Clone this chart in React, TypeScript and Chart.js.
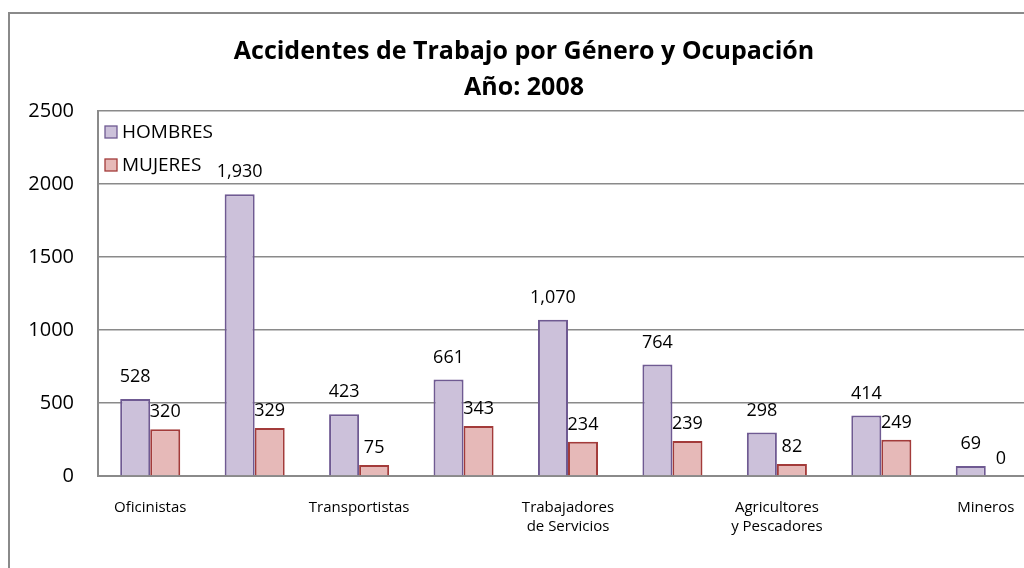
import React, { useEffect, useRef } from "react";
import { Chart, registerables } from "chart.js";

Chart.register(...registerables);

const categories: string[][] = [
  ["Oficinistas"],
  ["Artesanos y Operarios"],
  ["Transportistas"],
  ["Comerciantes y Vendedores"],
  ["Trabajadores", "de Servicios"],
  ["Profesionales y Técnicos"],
  ["Agricultores", "y Pescadores"],
  ["Gerentes y Administradores"],
  ["Mineros"],
];
const shownLabelIndexes = [0, 2, 4, 6, 8];
const hombres = [528, 1930, 423, 661, 1070, 764, 298, 414, 69];
const mujeres = [320, 329, 75, 343, 234, 239, 82, 249, 0];
const titleLines = ["Accidentes de Trabajo por Género y Ocupación", "Año: 2008"];
const yTicks = [0, 500, 1000, 1500, 2000, 2500];

const FONT = "'Open Sans', 'DejaVu Sans', sans-serif";

const decorPlugin = {
  id: "decor",
  beforeDraw(chart: any) {
    const ctx = chart.ctx;
    ctx.save();
    ctx.fillStyle = "#ffffff";
    ctx.fillRect(0, 0, chart.width, chart.height);
    ctx.strokeStyle = "#8a8a8a";
    ctx.lineWidth = 2;
    ctx.strokeRect(9, 13, chart.width + 40, chart.height + 40);
    ctx.restore();
  },
  afterDraw(chart: any) {
    const ctx = chart.ctx;
    ctx.save();
    ctx.fillStyle = "#000";
    ctx.textAlign = "center";
    ctx.textBaseline = "middle";
    ctx.font = `bold 25px ${FONT}`;
    ctx.fillText(titleLines[0], 524, 52);
    ctx.fillText(titleLines[1], 524, 88);
    const items = chart.data.datasets.map((d: any) => ({
      label: d.label,
      fill: d.backgroundColor,
      stroke: d.borderColor,
    }));
    const ys = [132, 165];
    ctx.font = `19px ${FONT}`;
    ctx.textAlign = "left";
    items.forEach((it: any, i: number) => {
      const y = ys[i];
      ctx.fillStyle = it.fill;
      ctx.fillRect(105, y - 6, 12, 12);
      ctx.strokeStyle = it.stroke;
      ctx.lineWidth = 1.3;
      ctx.strokeRect(105, y - 6, 12, 12);
      ctx.fillStyle = "#000";
      ctx.fillText(it.label, 122, y + 1);
    });
    ctx.restore();
  },
  afterDatasetsDraw(chart: any) {
    const ctx = chart.ctx;
    ctx.save();
    ctx.font = `18px ${FONT}`;
    ctx.fillStyle = "#000";
    ctx.textAlign = "center";
    ctx.textBaseline = "middle";
    const offsets = [22, 17];
    chart.data.datasets.forEach((ds: any, di: number) => {
      const meta = chart.getDatasetMeta(di);
      meta.data.forEach((el: any, i: number) => {
        const v = ds.data[i];
        ctx.fillText(v.toLocaleString("en-US"), el.x, el.y - offsets[di]);
      });
    });
    ctx.restore();
  },
};

export default function App() {
  const ref = useRef<HTMLCanvasElement>(null);
  useEffect(() => {
    if (!ref.current) return;
    const chart = new Chart(ref.current, {
      type: "bar",
      data: {
        labels: categories,
        datasets: [
          {
            label: "HOMBRES",
            data: hombres,
            backgroundColor: "#ccc1da",
            borderColor: "#6f5a92",
            borderWidth: 2,
            categoryPercentage: 0.575,
            barPercentage: 1,
          },
          {
            label: "MUJERES",
            data: mujeres,
            backgroundColor: "#e6b9b8",
            borderColor: "#a33b3a",
            borderWidth: 2,
            categoryPercentage: 0.575,
            barPercentage: 1,
          },
        ],
      },
      options: {
        animation: false,
        responsive: false,
        layout: { padding: { top: 111, right: 22, left: 0, bottom: 0 } },
        plugins: {
          legend: { display: false },
          title: { display: false },
          tooltip: { enabled: false },
        },
        scales: {
          x: {
            grid: { display: false, drawTicks: false },
            border: { display: true, color: "#8a8a8a", width: 2 },
            ticks: {
              autoSkip: false,
              maxRotation: 0,
              padding: 22,
              color: "#000",
              font: { family: FONT, size: 15, lineHeight: 1.27 },
              callback: (_v: any, i: number) =>
                shownLabelIndexes.includes(i) ? categories[i] : "",
            },
            afterFit: (s: any) => {
              s.height = 92;
            },
          },
          y: {
            min: 0,
            max: 2500,
            afterBuildTicks: (s: any) => {
              s.ticks = yTicks.map((v) => ({ value: v }));
            },
            grid: { color: "#8a8a8a", lineWidth: 1.5, drawTicks: false },
            border: { display: true, color: "#8a8a8a", width: 2 },
            ticks: {
              padding: 24,
              color: "#000",
              font: { family: FONT, size: 20 },
              callback: (v: any) => String(v),
            },
            afterFit: (s: any) => {
              s.width = 98;
            },
          },
        },
      },
      plugins: [decorPlugin],
    });
    return () => chart.destroy();
  }, []);
  return (
    <div
      style={{
        position: "fixed",
        left: 0,
        top: 0,
        width: 1024,
        height: 568,
        overflow: "hidden",
        background: "#fff",
      }}
    >
      <canvas ref={ref} width={1060} height={568} style={{ display: "block" }} />
    </div>
  );
}
